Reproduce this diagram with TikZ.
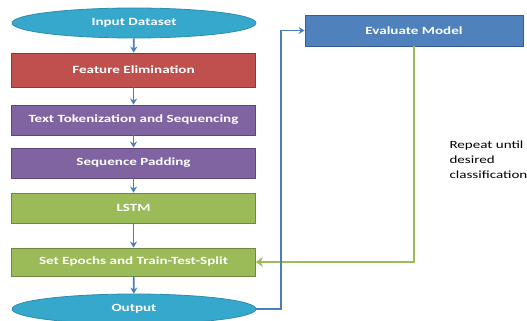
\documentclass[tikz,border=0pt]{standalone}
\usepackage{fontspec}
\setmainfont{Carlito}[FakeStretch=1.37]
\usetikzlibrary{shapes.geometric,arrows.meta}
\definecolor{aqua}{HTML}{36A8CC}
\definecolor{aquaedge}{HTML}{2C8DAD}
\definecolor{redfill}{HTML}{C0504D}
\definecolor{rededge}{HTML}{8C3836}
\definecolor{purplefill}{HTML}{8064A2}
\definecolor{purpleedge}{HTML}{5C4776}
\definecolor{greenfill}{HTML}{9BBB59}
\definecolor{greenedge}{HTML}{71893F}
\definecolor{bluefill}{HTML}{4F81BD}
\definecolor{blueedge}{HTML}{385D8A}
\definecolor{bluearrow}{HTML}{4A7EBB}
\tikzset{
  x=1pt, y=-1pt,
  stage/.style={rectangle, minimum width=244pt, minimum height=30pt, line width=0.8pt,
    text=white, font=\fontsize{11}{13}\selectfont\bfseries, inner sep=0pt},
  terminal/.style={ellipse, minimum width=244pt, minimum height=30pt, line width=0.8pt,
    fill=aqua, draw=aquaedge, text=white, font=\fontsize{11}{13}\selectfont\bfseries, inner sep=0pt},
  flow/.style={draw=bluearrow, line width=1.8pt, -{Stealth[length=6pt,width=7pt]}},
  loopback/.style={draw=greenfill, line width=2.6pt, -{Stealth[length=7pt,width=10pt]}},
}
\begin{document}
\begin{tikzpicture}
\useasboundingbox (0,0) rectangle (527,321);
\node[terminal] (in) at (134,23) {Input Dataset};
\node[stage, fill=redfill, draw=rededge, minimum height=34pt] (fe) at (133.5,70) {Feature Elimination};
\node[stage, fill=purplefill, draw=purpleedge] (tt) at (133.5,120) {Text Tokenization and Sequencing};
\node[stage, fill=purplefill, draw=purpleedge] (sp) at (133.5,163) {Sequence Padding};
\node[stage, fill=greenfill, draw=greenedge] (lstm) at (133.5,208) {LSTM};
\node[stage, fill=greenfill, draw=greenedge, minimum height=28pt] (se) at (133.5,262) {Set Epochs and Train-Test-Split};
\node[terminal, minimum height=30pt] (out) at (134,309) {Output};
\node[stage, fill=bluefill, draw=blueedge, minimum width=218pt, minimum height=31pt] (ev) at (414,30.5) {Evaluate Model};
\node[anchor=west, align=left, font=\fontsize{11}{15}\selectfont] (note) at (446,160) {Repeat until\\desired\\classification};
\coordinate (lp) at (281,0);
% main pipeline
\draw[flow] (in) -- (fe);
\draw[flow] (fe) -- (tt);
\draw[flow] (tt) -- (sp);
\draw[flow] (sp) -- (lstm);
\draw[flow] (lstm) -- (se);
\draw[flow] (se) -- (out);
% feedback loop
\draw[loopback] (ev.south) |- (se.east);
\draw[flow] (out.east) -- (out.east -| lp) |- (ev.west);
\end{tikzpicture}
\end{document}
